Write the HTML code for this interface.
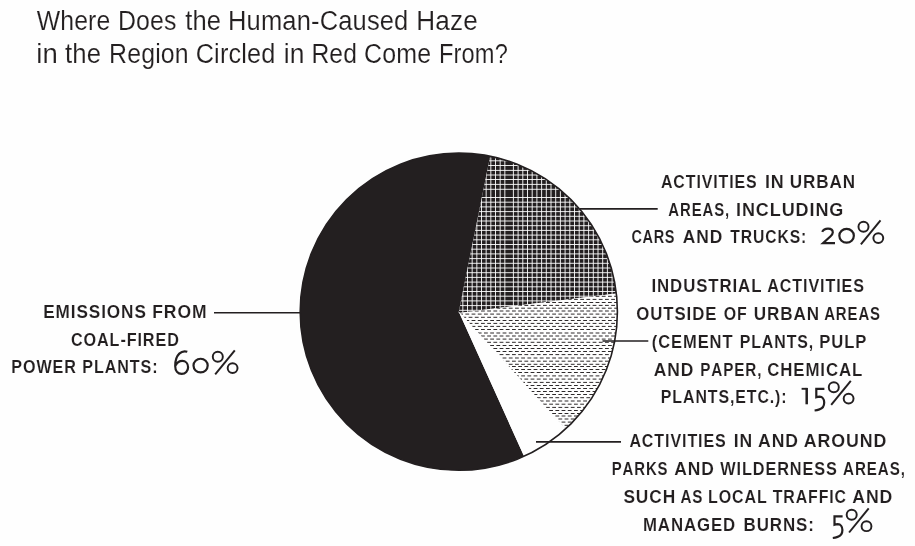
<!DOCTYPE html>
<html><head><meta charset="utf-8"><title>Haze sources</title>
<style>
html,body{margin:0;padding:0;background:#fefefe;}
svg{display:block;font-family:"Liberation Sans",sans-serif;}
.lab{font-weight:bold;font-size:17.7px;fill:#231f20;stroke:#fefefe;stroke-width:0.1px;stroke-linejoin:round;}
.ttl{font-size:27.0px;fill:#231f20;stroke:#fefefe;stroke-width:0.12px;}
.num{fill:none;stroke:#231f20;stroke-width:1.95;stroke-linecap:butt;stroke-linejoin:miter;}
.ldr{stroke:#231f20;fill:none;}
</style></head><body>
<svg width="915" height="546" viewBox="0 0 915 546">
<defs>
<clipPath id="cH"><path d="M458.80,311.70 L490.15,156.23 A158.6,158.6 0 0 1 616.35,293.47 L458.80,312.90 Z"/></clipPath>
<clipPath id="cD"><path d="M458.80,312.90 L616.35,293.47 A158.6,158.6 0 0 1 565.54,429.01 L458.80,311.70 Z"/></clipPath>
</defs>
<rect width="915" height="546" fill="#fefefe"/>

<path d="M458.80,311.70 L524.07,456.25 A158.6,158.6 0 1 1 490.15,156.23 L458.80,311.70 Z" fill="#231f20"/>
<path d="M458.80,311.70 L490.15,156.23 A158.6,158.6 0 0 1 616.35,293.47 L458.80,312.90 Z" fill="#231f20"/>
<path d="M458.80,312.90 L616.35,293.47 A158.6,158.6 0 0 1 565.54,429.01 L458.80,311.70 Z" fill="#fefefe"/>
<path clip-path="url(#cH)" d="M458.17,148V318M462.83,148V318M467.50,148V318M472.17,148V318M476.83,148V318M481.50,148V318M486.17,148V318M490.83,148V318M495.50,148V318M500.17,148V318M504.83,148V318M513.40,148V318M518.10,148V318M522.80,148V318M527.50,148V318M532.20,148V318M536.90,148V318M541.60,148V318M546.30,148V318M551.00,148V318M555.70,148V318M560.40,148V318M565.10,148V318M569.80,148V318M574.50,148V318M579.20,148V318M583.90,148V318M588.60,148V318M593.30,148V318M598.00,148V318M602.70,148V318M607.40,148V318M612.10,148V318M616.80,148V318M621.50,148V318M455,151.30H622M455,156.00H622M455,160.80H622M455,165.50H622M455,170.40H622M455,175.00H622M455,179.50H622M455,184.40H622M455,189.30H622M455,197.50H622M455,202.20H622M455,206.90H622M455,211.60H622M455,216.30H622M455,221.00H622M455,225.70H622M455,230.40H622M455,235.10H622M455,239.80H622M455,244.50H622M455,249.20H622M455,253.90H622M455,258.60H622M455,263.30H622M455,268.00H622M455,272.70H622M455,277.40H622M455,282.10H622M455,286.80H622M455,291.50H622M455,296.20H622M455,300.90H622M455,305.60H622M455,310.30H622M455,315.00H622" stroke="#fff" stroke-width="0.9" fill="none"/>
<g clip-path="url(#cD)" stroke="#231f20" stroke-width="0.95" fill="none" stroke-dasharray="3.8 2.40"><path d="M453.00,296.30H625M453.00,302.50H625M453.00,308.20H625M453.00,314.10H625M453.00,320.50H625M453.00,326.40H625M453.00,333.00H625M453.00,339.10H625M453.00,345.50H625M453.00,351.50H625M453.00,358.00H625M453.00,364.30H625M453.00,369.50H625M453.00,375.90H625M453.00,382.40H625M453.00,388.50H625M453.00,394.50H625M453.00,401.00H625M453.00,407.40H625M453.00,413.50H625M453.00,419.00H625M453.00,425.30H625M453.00,431.50H625"/><path d="M456.20,293.30H625M456.20,299.40H625M456.20,305.40H625M456.20,311.00H625M456.20,317.30H625M456.20,323.40H625M456.20,329.50H625M456.20,336.00H625M456.20,342.30H625M456.20,348.50H625M456.20,354.60H625M456.20,361.20H625M456.20,366.50H625M456.20,372.50H625M456.20,379.10H625M456.20,385.50H625M456.20,391.50H625M456.20,397.70H625M456.20,404.20H625M456.20,410.50H625M456.20,416.00H625M456.20,422.10H625M456.20,428.40H625"/></g>
<path d="M458.80,311.70 L565.54,429.01 A158.6,158.6 0 0 1 524.07,456.25 L458.80,311.70 Z" fill="#fefefe"/>
<circle cx="458.8" cy="311.7" r="158.6" fill="none" stroke="#231f20" stroke-width="1.6"/>
<path class="ldr" stroke-width="1.6" d="M214,312.8H301"/>
<path class="ldr" stroke-width="1.9" d="M580,208.9H657.7"/>
<path class="ldr" stroke-width="1.5" d="M602.5,341.1H648.3"/>
<path class="ldr" stroke-width="1.7" d="M536,441.9H621"/>
<g style="will-change:transform">
<text class="ttl" transform="translate(0,29.8) scale(0.9186,1)" x="39.89 65.53 80.71 95.89 105.05" y="0">Where</text>
<text class="ttl" transform="translate(0,29.8) scale(0.9213,1)" x="128.07 147.73 162.91 178.09" y="0">Does</text>
<text class="ttl" transform="translate(0,29.8) scale(0.9453,1)" x="195.96 203.62 218.79" y="0">the</text>
<text class="ttl" transform="translate(0,29.8) scale(0.9446,1)" x="241.42 261.08 276.25 298.90 314.08 329.25 338.40 358.06 373.24 388.41 402.07 417.25" y="0">Human-Caused</text>
<text class="ttl" transform="translate(0,29.8) scale(0.9676,1)" x="430.25 449.90 465.07 478.73" y="0">Haze</text>
<text class="ttl" transform="translate(0,62.7) scale(1.0196,1)" x="35.53 41.67" y="0">in</text>
<text class="ttl" transform="translate(0,62.7) scale(0.9535,1)" x="68.11 75.76 90.94" y="0">the</text>
<text class="ttl" transform="translate(0,62.7) scale(0.9216,1)" x="118.38 138.05 153.22 168.40 174.56 189.74" y="0">Region</text>
<text class="ttl" transform="translate(0,62.7) scale(0.9368,1)" x="208.91 228.57 234.72 243.88 257.54 263.69 278.87" y="0">Circled</text>
<text class="ttl" transform="translate(0,62.7) scale(0.9774,1)" x="290.21 296.36" y="0">in</text>
<text class="ttl" transform="translate(0,62.7) scale(0.9141,1)" x="340.67 360.33 375.51" y="0">Red</text>
<text class="ttl" transform="translate(0,62.7) scale(0.9238,1)" x="394.05 413.71 428.89 451.54" y="0">Come</text>
<text class="ttl" transform="translate(0,62.7) scale(0.8754,1)" x="501.38 518.04 527.21 542.39 565.06" y="0">From?</text>
<text class="lab" transform="translate(0,318.3) scale(0.9704,1)" x="44.60 57.32 72.99 78.83 91.55 104.28 110.12 124.80 138.51" y="0">EMISSIONS</text>
<text class="lab" transform="translate(0,318.3) scale(0.9894,1)" x="153.90 165.61 179.29 193.96" y="0">FROM</text>
<text class="lab" transform="translate(0,345.5) scale(0.9150,1)" x="77.54 91.30 106.04 119.80 131.58 138.46 150.24 156.14 169.90 182.68" y="0">COAL-FIRED</text>
<text class="lab" transform="translate(0,373.3) scale(0.9115,1)" x="12.44 25.22 39.97 57.65 70.44" y="0">POWER</text>
<text class="lab" transform="translate(0,373.3) scale(0.9110,1)" x="90.38 103.16 114.96 128.72 142.48 154.27 167.06" y="0">PLANTS:</text>
<text class="lab" transform="translate(0,188.3) scale(0.9016,1)" x="733.08 746.85 760.62 772.42 778.34 791.13 797.04 808.85 814.76 827.56" y="0">ACTIVITIES</text>
<text class="lab" transform="translate(0,188.3) scale(1.0117,1)" x="756.11 761.91" y="0">IN</text>
<text class="lab" transform="translate(0,188.3) scale(0.9663,1)" x="817.34 831.04 844.75 858.45 872.16" y="0">URBAN</text>
<text class="lab" transform="translate(0,216.0) scale(0.8420,1)" x="793.77 807.61 821.45 834.32 848.16 861.03" y="0">AREAS,</text>
<text class="lab" transform="translate(0,216.0) scale(1.0187,1)" x="722.55 728.35 742.00 755.66 767.35 781.00 794.66 800.46 814.12" y="0">INCLUDING</text>
<text class="lab" transform="translate(0,243.4) scale(0.8200,1)" x="770.06 783.62 797.18 810.74" y="0">CARS</text>
<text class="lab" transform="translate(0,243.4) scale(0.9832,1)" x="694.40 708.09 721.78" y="0">AND</text>
<text class="lab" transform="translate(0,243.4) scale(0.8870,1)" x="823.31 835.13 848.92 862.71 876.49 890.28 903.09" y="0">TRUCKS:</text>
<text class="lab" transform="translate(0,292.3) scale(0.9511,1)" x="684.99 690.85 704.57 718.29 732.01 744.75 756.50 770.22 776.08 789.80" y="0">INDUSTRIAL</text>
<text class="lab" transform="translate(0,292.3) scale(0.9129,1)" x="840.35 854.11 867.87 879.66 885.56 898.34 904.24 916.03 921.93 934.72" y="0">ACTIVITIES</text>
<text class="lab" transform="translate(0,320.0) scale(0.9490,1)" x="670.55 685.26 698.98 710.73 723.48 729.34 743.06" y="0">OUTSIDE</text>
<text class="lab" transform="translate(0,320.0) scale(0.9007,1)" x="803.52 818.28" y="0">OF</text>
<text class="lab" transform="translate(0,320.0) scale(0.9663,1)" x="780.08 793.79 807.49 821.20 834.90" y="0">URBAN</text>
<text class="lab" transform="translate(0,320.0) scale(0.8436,1)" x="976.99 990.83 1004.67 1017.53 1031.37" y="0">AREAS</text>
<text class="lab" transform="translate(0,348.3) scale(0.9348,1)" x="697.31 704.16 717.90 730.66 746.36 759.12 772.85" y="0">(CEMENT</text>
<text class="lab" transform="translate(0,348.3) scale(0.9003,1)" x="821.63 834.43 846.24 860.01 873.78 885.59 898.38" y="0">PLANTS,</text>
<text class="lab" transform="translate(0,348.3) scale(0.9402,1)" x="871.46 884.21 897.94 909.70" y="0">PULP</text>
<text class="lab" transform="translate(0,375.8) scale(0.9858,1)" x="663.16 676.84 690.53" y="0">AND</text>
<text class="lab" transform="translate(0,375.8) scale(0.8633,1)" x="811.04 823.88 837.69 850.53 863.37 877.19" y="0">PAPER,</text>
<text class="lab" transform="translate(0,375.8) scale(0.9515,1)" x="806.27 819.99 833.71 846.45 862.13 867.99 881.71 895.43" y="0">CHEMICAL</text>
<text class="lab" transform="translate(0,403.3) scale(0.9003,1)" x="734.01 746.81 758.61 772.39 786.16 797.96 810.76 816.67 829.47 841.27 855.05 860.96 867.85" y="0">PLANTS,ETC.):</text>
<text class="lab" transform="translate(0,447.3) scale(0.9078,1)" x="693.30 707.06 720.83 732.62 738.53 751.32 757.22 769.02 774.92 787.71" y="0">ACTIVITIES</text>
<text class="lab" transform="translate(0,447.3) scale(0.9928,1)" x="738.96 744.78" y="0">IN</text>
<text class="lab" transform="translate(0,447.3) scale(0.9936,1)" x="762.93 776.61 790.29" y="0">AND</text>
<text class="lab" transform="translate(0,447.3) scale(1.0058,1)" x="799.14 812.81 826.48 841.13 854.80 868.47" y="0">AROUND</text>
<text class="lab" transform="translate(0,475.0) scale(0.8443,1)" x="724.53 737.40 751.24 765.08 778.91" y="0">PARKS</text>
<text class="lab" transform="translate(0,475.0) scale(0.9858,1)" x="684.05 697.74 711.42" y="0">AND</text>
<text class="lab" transform="translate(0,475.0) scale(0.9211,1)" x="781.87 799.54 805.44 817.22 830.97 843.74 857.49 871.24 884.02 896.79" y="0">WILDERNESS</text>
<text class="lab" transform="translate(0,475.0) scale(0.8572,1)" x="983.53 997.36 1011.18 1024.03 1037.85 1050.70" y="0">AREAS,</text>
<text class="lab" transform="translate(0,503.0) scale(0.9788,1)" x="636.93 649.64 663.34 677.03" y="0">SUCH</text>
<text class="lab" transform="translate(0,503.0) scale(0.8598,1)" x="791.41 805.23" y="0">AS</text>
<text class="lab" transform="translate(0,503.0) scale(0.9050,1)" x="782.35 794.15 808.90 822.67 836.43" y="0">LOCAL</text>
<text class="lab" transform="translate(0,503.0) scale(0.8989,1)" x="859.58 871.39 885.16 898.94 910.75 922.55 928.47" y="0">TRAFFIC</text>
<text class="lab" transform="translate(0,503.0) scale(0.9988,1)" x="853.28 866.96 880.63" y="0">AND</text>
<text class="lab" transform="translate(0,530.7) scale(0.9502,1)" x="676.67 692.36 706.08 719.80 733.52 748.22 760.97" y="0">MANAGED</text>
<text class="lab" transform="translate(0,530.7) scale(0.9568,1)" x="777.18 790.89 804.61 818.32 832.04 844.77" y="0">BURNS:</text>
</g>
<g class="num">
<path stroke-width="2.2" d="M187.3,351.8 C184.5,350.9 181.5,351.6 179.3,353.6 C176.5,356.3 175.2,361 175.2,366 C175.2,370.8 177.8,373.9 181.7,373.9 C185.4,373.9 188.1,371 188.1,367.2 C188.1,363.6 185.6,360.9 182.2,360.9 C179.4,360.9 177,362.8 175.8,365.3"/>
<ellipse stroke-width="2.2" cx="200.6" cy="365.6" rx="7.10" ry="6.85"/>
<circle cx="217.8" cy="356.7" r="5.025"/><circle cx="232.6" cy="368.1" r="4.93"/><path d="M234.8,350.3 L215.2,374.4"/>
<path stroke-width="2.2" d="M822.2,231.9 C823.2,229.8 825.5,228.7 828,228.7 C831,228.7 832.8,230.4 832.8,232.6 C832.8,234.3 831.8,235.4 830,236.8 L823.0,243.2 H835"/>
<ellipse stroke-width="2.2" cx="846.6" cy="235.8" rx="7.25" ry="6.90"/>
<circle cx="863.5" cy="226.7" r="5.025"/><circle cx="878.3" cy="238.1" r="4.93"/><path d="M880.5,220.3 L860.9,244.4"/>
<path d="M801.6,388.8H806.7" stroke-width="1.9"/>
<path d="M806.7,387.9V404.3" stroke-width="2.5"/>
<path transform="translate(0,0)" stroke-width="2.2" d="M824.4,388.8 H816.3 V397.2 C817.5,396.8 818.6,396.7 819.6,396.7 C822.4,396.8 824.2,399.2 824.2,402.4 C824.2,405.8 822.4,408.4 819.4,409.4 C818,409.9 816.4,410.3 814.6,410.5"/>
<circle cx="833.8" cy="387.2" r="5.025"/><circle cx="848.6" cy="398.6" r="4.93"/><path d="M850.8,380.8 L831.2,404.9"/>
<path transform="translate(18.2,127.5)" stroke-width="2.2" d="M824.4,388.8 H816.3 V397.2 C817.5,396.8 818.6,396.7 819.6,396.7 C822.4,396.8 824.2,399.2 824.2,402.4 C824.2,405.8 822.4,408.4 819.4,409.4 C818,409.9 816.4,410.3 814.6,410.5"/>
<circle cx="851.7" cy="514.8" r="5.025"/><circle cx="866.5" cy="526.2" r="4.93"/><path d="M868.7,508.4 L849.1,532.5"/>
</g>
</svg></body></html>
